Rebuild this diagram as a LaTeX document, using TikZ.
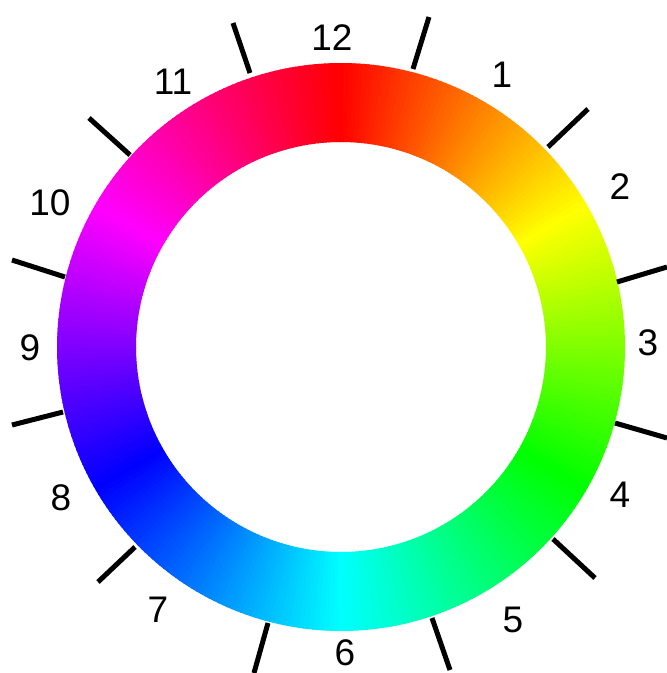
\documentclass[tikz,border=0pt]{standalone}
\usepackage{fontspec}
\setmainfont{Liberation Sans}
\begin{document}
\begin{tikzpicture}[x=1pt,y=-1pt,
  tickline/.style={line width=5pt, black},
  num/.style={font=\fontsize{37}{40}\selectfont, inner sep=0pt, text=black}]
\useasboundingbox (0,0) rectangle (667,673);
\fill[white] (0,0) rectangle (667,673);
% colour ring
\foreach \h in {0,...,359}{
  \definecolor{seg}{Hsb}{\h,1,1}
  \pgfmathsetmacro{\a}{\h-90.5}
  \pgfmathsetmacro{\b}{\h-89.2}
  \fill[seg, shift={(341,347)}] (\a:205) -- (\a:284) -- (\b:284) -- (\b:205) -- cycle;
}
% ticks
\draw[tickline] (413,69) -- (429,17);
\draw[tickline] (548,147) -- (588,109);
\draw[tickline] (617,282) -- (667,267);
\draw[tickline] (615,423) -- (667,438);
\draw[tickline] (553,539) -- (595,578);
\draw[tickline] (432,618) -- (450,670);
\draw[tickline] (268,623) -- (254,673);
\draw[tickline] (135,547) -- (98,582);
\draw[tickline] (63,412) -- (12,425);
\draw[tickline] (65,277) -- (12,260);
\draw[tickline] (130,155) -- (89,118);
\draw[tickline] (250,73) -- (233,23);
% labels
\node[num] (n12) at (332,38) {12};
\node[num] (n1) at (502,75) {1};
\node[num] (n2) at (620,187) {2};
\node[num] (n3) at (648,343) {3};
\node[num] (n4) at (620,495) {4};
\node[num] (n5) at (513,620) {5};
\node[num] (n6) at (345,653) {6};
\node[num] (n7) at (158,610) {7};
\node[num] (n8) at (61,498) {8};
\node[num] (n9) at (30,348) {9};
\node[num] (n10) at (50,203) {10};
\node[num] (n11) at (173,82) {11};
\end{tikzpicture}
\end{document}
